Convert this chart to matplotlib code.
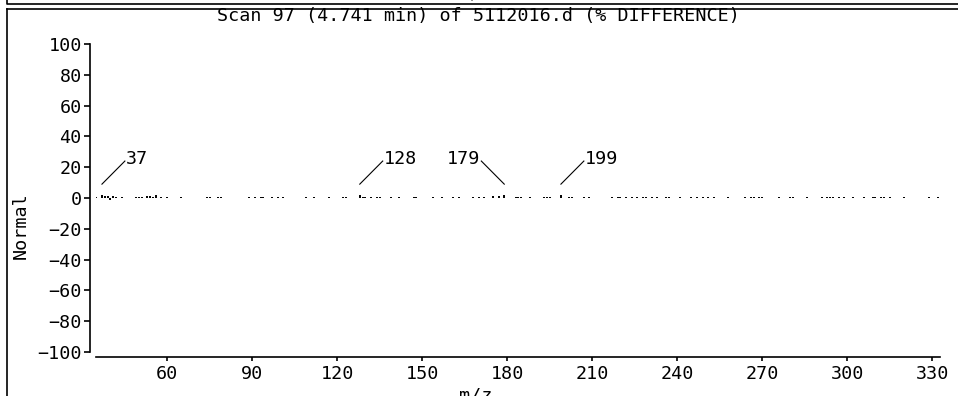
import matplotlib
matplotlib.use("Agg")
import matplotlib.pyplot as plt
from matplotlib.lines import Line2D

# m/z positions of the difference peaks and their (tiny) % difference values
mz = [35, 37, 38, 39, 40, 41, 42, 44, 49, 50, 51, 53, 54, 55, 56, 58, 60, 65,
      74, 75, 78, 79, 89, 91, 93, 94, 97, 99, 101, 109, 112, 117, 122, 123,
      128, 129, 130, 132, 134, 135, 139, 142, 147, 148, 154, 157, 161, 163,
      168, 170, 172, 175, 177, 179, 183, 184, 185, 188, 193, 194, 195, 199,
      202, 203, 207, 209, 217, 219, 220, 222, 224, 226, 228, 229, 231, 233,
      236, 237, 241, 245, 247, 249, 251, 253, 258, 264, 266, 267, 269, 270,
      276, 280, 281, 286, 291, 293, 294, 295, 297, 299, 302, 306, 309, 310,
      312, 313, 315, 320, 329, 332]
diff = [0.8, 2.2, 1.0, 1.5, -1.4, 1.0, 0.8, 0.8, 0.8, 0.8, 0.8, 1.0, 1.0, 0.8,
        2.0, 0.8, 0.8, 0.8,
        0.8, 0.8, 0.8, 0.8, 0.8, 0.8, 0.8, 0.8, 0.8, 0.8, 0.8, 0.8, 0.8, 0.8,
        0.8, 0.8,
        2.2, 0.8, 0.8, 0.8, 0.8, 0.8, 0.8, 0.8, 0.8, 0.8, 0.8, 0.8, 0.8, 0.8,
        0.8, 0.8, 0.8, 1.0, 1.4, 2.2, 0.8, 0.8, 0.8, 0.8, 0.8, 0.8, 0.8, 2.2,
        0.8, 0.8, 0.8, 0.8, 0.8, 0.8, 0.8, 0.8, 0.8, 0.8, 0.8, 0.8, 0.8, 0.8,
        0.8, 0.8, 0.8, 0.8, 0.8, 0.8, 0.8, 0.8, 0.8, 0.8, 0.8, 0.8, 0.8, 0.8,
        0.8, 0.8, 0.8, 0.8, 0.8, 0.8, 0.8, 0.8, 0.8, 0.8, 0.8, 0.8, 0.8, 0.8,
        0.8, 0.8, 0.8, 0.8, 0.8, 0.8]

# labelled peaks and which side the label goes
labels = [37, 128, 179, 199]
label_side = [1, 1, -1, 1]

xticks = [60, 90, 120, 150, 180, 210, 240, 270, 300, 330]
yticks = [100, 80, 60, 40, 20, 0, -20, -40, -60, -80, -100]

title = "Scan 97 (4.741 min) of 5112016.d (% DIFFERENCE)"

W, H = 958, 396
plt.rcParams['font.family'] = ['DejaVu Sans Mono']
plt.rcParams['font.size'] = 13.2

fig = plt.figure(figsize=(W / 100, H / 100), dpi=100)
ax = fig.add_axes([96 / W, 1 - 352 / H, 844 / W, 308 / H])

ax.vlines(mz, 0, diff, colors='black', linewidth=1.4)

for m, s in zip(labels, label_side):
    ax.plot([m, m + s * 8.1], [9, 24], color='black', linewidth=0.8)
    ax.text(m + s * 8.4, 25, str(m), ha='left' if s > 0 else 'right',
            va='center')

ax.set_xlim(34.9, 332.8)
ax.set_ylim(-100, 100)
ax.set_xticks(xticks)
ax.set_yticks(yticks)
ax.set_yticklabels([str(v).replace('-', '\u2212') for v in yticks])

for side in ['top', 'right']:
    ax.spines[side].set_visible(False)
ax.spines['left'].set_position(('outward', 4.3))
ax.spines['bottom'].set_position(('outward', 3.6))
for side in ['left', 'bottom']:
    ax.spines[side].set_linewidth(1.2)
ax.tick_params(axis='y', direction='out', length=4, width=1.2, pad=2)
ax.tick_params(axis='x', direction='out', length=3, width=1.2, pad=3)

fig.text(478 / W, 1 - 16 / H, title, ha='center', va='center')
fig.text(21 / W, 1 - 226 / H, "Normal", rotation=90, ha='center', va='center')
fig.text(476 / W, 1 - 386 / H, "m/z", ha='center', va='top')
fig.text(476 / W, 1 - 2 / H, "m/z", ha='center', va='bottom')

# panel frames (bottom edge of the panel above, top-left of this one)
def fline(xs, ys, lw=1.2):
    fig.add_artist(Line2D([x / W for x in xs], [1 - y / H for y in ys],
                          color='black', linewidth=lw))

fline([7, 7, W], [0, 4, 4])
fline([7, W], [8.5, 8.5])
fline([7, 7], [8.5, H])

fig.savefig("out.png", dpi=100)
